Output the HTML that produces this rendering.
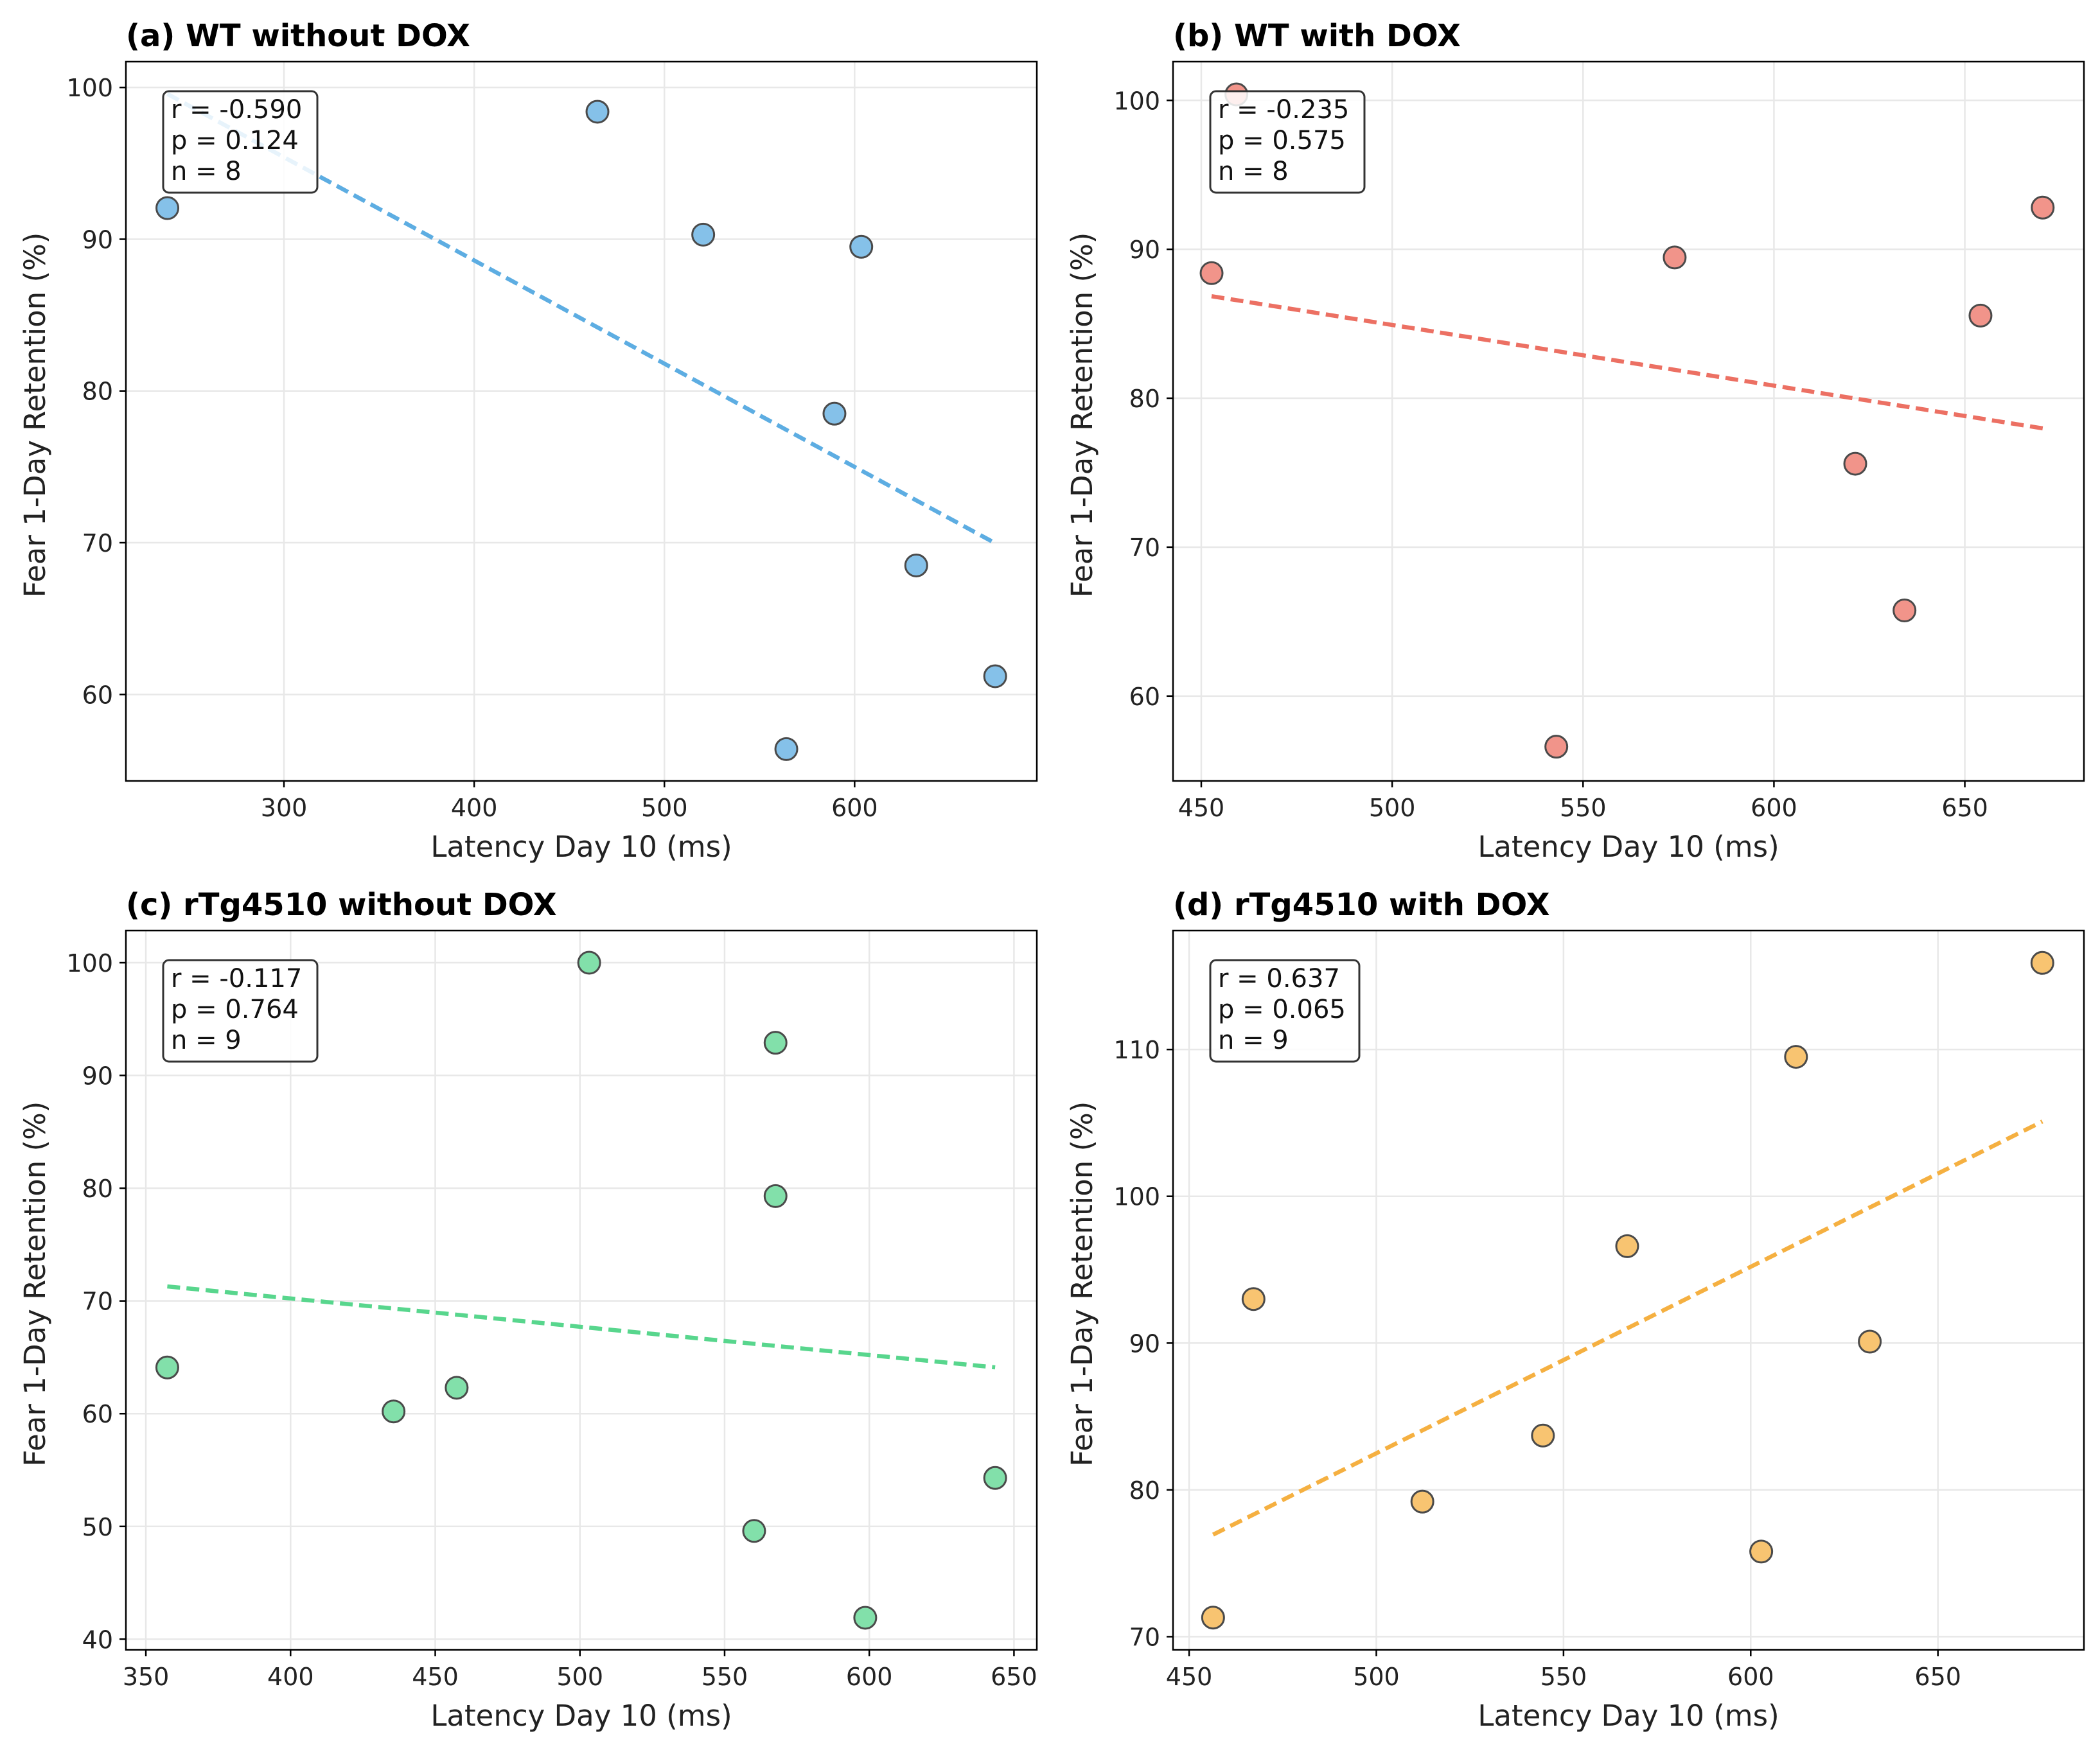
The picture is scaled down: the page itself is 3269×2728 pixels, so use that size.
<!DOCTYPE html>
<html><head><meta charset="utf-8">
<style>
html,body{margin:0;padding:0;background:#fff;}
svg{display:block;font-family:"DejaVu Sans","Liberation Sans",sans-serif;}
</style></head>
<body>
<svg id="fig" width="3269" height="2728" viewBox="0 0 3269 2728"></svg>
<script>
// Panel (a) data
const aX = [238.7, 464.8, 520.4, 603.5, 589.4, 632.4, 564.1, 673.9];
const aY = [92.05, 98.4, 90.3, 89.5, 78.5, 68.5, 56.4, 61.2];
const aXTicks = [300, 400, 500, 600];
const aYTicks = [60, 70, 80, 90, 100];
const aStats = ["r = -0.590", "p = 0.124", "n = 8"];
// Panel (b) data
const bX = [452.7, 459.2, 574.0, 543.0, 621.3, 634.2, 654.1, 670.4];
const bY = [88.4, 100.4, 89.45, 56.6, 75.6, 65.75, 85.55, 92.8];
const bXTicks = [450, 500, 550, 600, 650];
const bYTicks = [60, 70, 80, 90, 100];
const bStats = ["r = -0.235", "p = 0.575", "n = 8"];
// Panel (c) data
const cX = [357.4, 435.6, 457.4, 503.2, 567.6, 567.6, 560.2, 598.6, 643.5];
const cY = [64.1, 60.2, 62.3, 100, 92.9, 79.3, 49.6, 41.9, 54.3];
const cXTicks = [350, 400, 450, 500, 550, 600, 650];
const cYTicks = [40, 50, 60, 70, 80, 90, 100];
const cStats = ["r = -0.117", "p = 0.764", "n = 9"];
// Panel (d) data
const dX = [456.4, 467.2, 512.3, 544.5, 567.0, 602.8, 612.1, 631.8, 677.9];
const dY = [71.3, 93.0, 79.2, 83.7, 96.6, 75.8, 109.5, 90.1, 115.9];
const dXTicks = [450, 500, 550, 600, 650];
const dYTicks = [70, 80, 90, 100, 110];
const dStats = ["r = 0.637", "p = 0.065", "n = 9"];

const NS = "http://www.w3.org/2000/svg";
const svg = document.getElementById("fig");
function mk(tag, attrs, parent){
  const e = document.createElementNS(NS, tag);
  for (const k in attrs) e.setAttribute(k, attrs[k]);
  (parent||svg).appendChild(e);
  return e;
}

function panel(cfg){
  const g = mk("g", {});
  
  
  const L = cfg.left, R = cfg.left + 1418, T = cfg.top, B = cfg.top + 1120;
  const sx = v => L + (v - cfg.xmin) / (cfg.xmax - cfg.xmin) * (R - L);
  const sy = v => B - (v - cfg.ymin) / (cfg.ymax - cfg.ymin) * (B - T);
  cfg.xt.forEach(t => {
    const l = mk("line", {x1:sx(t), x2:sx(t), y1:T, y2:B, stroke:"#e8e8e8", "stroke-width":2.5}, g);
    
    
  });
  cfg.yt.forEach(t => {
    const l = mk("line", {x1:L, x2:R, y1:sy(t), y2:sy(t), stroke:"#e8e8e8", "stroke-width":2.5}, g);
    
    
  });
  const n = cfg.x.length;
  const mx = cfg.x.reduce((a,b)=>a+b,0)/n, my = cfg.y.reduce((a,b)=>a+b,0)/n;
  let sxy=0, sxx=0;
  for (let i=0;i<n;i++){ sxy += (cfg.x[i]-mx)*(cfg.y[i]-my); sxx += (cfg.x[i]-mx)**2; }
  const slope = sxy/sxx, icpt = my - slope*mx;
  const x0 = Math.min(...cfg.x), x1 = Math.max(...cfg.x);
  const tl = mk("line", {x1:sx(x0), y1:sy(slope*x0+icpt), x2:sx(x1), y2:sy(slope*x1+icpt),
    stroke:cfg.line, "stroke-width":6.5, "stroke-dasharray":"20 10"}, g);
  
  
  for (let i=0;i<n;i++){
    const c = mk("circle", {cx:sx(cfg.x[i]), cy:sy(cfg.y[i]), r:17, fill:cfg.fill, stroke:"#4a4a4a", "stroke-width":3}, g);
    
    
  }
  const fr = mk("rect", {x:L, y:T, width:R-L, height:B-T, fill:"none", stroke:"#000", "stroke-width":2.5}, g);
  
  
  cfg.xt.forEach(t => {
    mk("line", {x1:sx(t), x2:sx(t), y1:B, y2:B+10, stroke:"#000", "stroke-width":2.5}, g);
    const tx = mk("text", {x:sx(t), y:B+55, "font-size":38, "text-anchor":"middle", fill:"#222"}, g);
    tx.textContent = t;
    
    
  });
  cfg.yt.forEach(t => {
    mk("line", {x1:L-10, x2:L, y1:sy(t), y2:sy(t), stroke:"#000", "stroke-width":2.5}, g);
    const tx = mk("text", {x:L-20, y:sy(t)+14, "font-size":38, "text-anchor":"end", fill:"#222"}, g);
    tx.textContent = t;
    
    
  });
  const xl = mk("text", {x:(L+R)/2, y:B+118, "font-size":45, "text-anchor":"middle", fill:"#222"}, g);
  xl.textContent = "Latency Day 10 (ms)";
  
  
  const yx = L - 126, yy = (T+B)/2 - 10;
  const yl = mk("text", {x:yx, y:yy, "font-size":45, "text-anchor":"middle", fill:"#222", transform:`rotate(-90 ${yx} ${yy})`}, g);
  yl.textContent = "Fear 1-Day Retention (%)";
  
  
  const ti = mk("text", {x:L, y:T-24, "font-size":48, "font-weight":"bold", fill:"#000"}, g);
  ti.textContent = cfg.title;
  
  
  const bx = mk("rect", {x:L+58, y:T+46, width:cfg.boxW, height:158, rx:9, fill:"#fff", "fill-opacity":0.85, stroke:"#333", "stroke-width":3}, g);
  
  
  cfg.stats.forEach((s,i) => {
    const t = mk("text", {x:L+70, y:T+88+i*48, "font-size":40, fill:"#111"}, g);
    t.textContent = s;
    
    
  });
}

panel({id:"panel-a", left:196, top:96, xmin:216.9, xmax:695.8, ymin:54.3, ymax:101.7, xt:aXTicks, yt:aYTicks,
  x:aX, y:aY, fill:"#85C1E9", line:"#5DADE2", title:"(a) WT without DOX", stats:aStats, boxW:240});
panel({id:"panel-b", left:1826, top:96, xmin:442.6, xmax:681.2, ymin:54.3, ymax:102.6, xt:bXTicks, yt:bYTicks,
  x:bX, y:bY, fill:"#F1948A", line:"#EC7063", title:"(b) WT with DOX", stats:bStats, boxW:240});
panel({id:"panel-c", left:196, top:1449, xmin:343.1, xmax:657.9, ymin:39.05, ymax:102.85, xt:cXTicks, yt:cYTicks,
  x:cX, y:cY, fill:"#82E0AA", line:"#58D68D", title:"(c) rTg4510 without DOX", stats:cStats, boxW:240});
panel({id:"panel-d", left:1826, top:1449, xmin:445.7, xmax:689.0, ymin:69.1, ymax:118.1, xt:dXTicks, yt:dYTicks,
  x:dX, y:dY, fill:"#F8C471", line:"#F5B041", title:"(d) rTg4510 with DOX", stats:dStats, boxW:232});
</script>
</body></html>
